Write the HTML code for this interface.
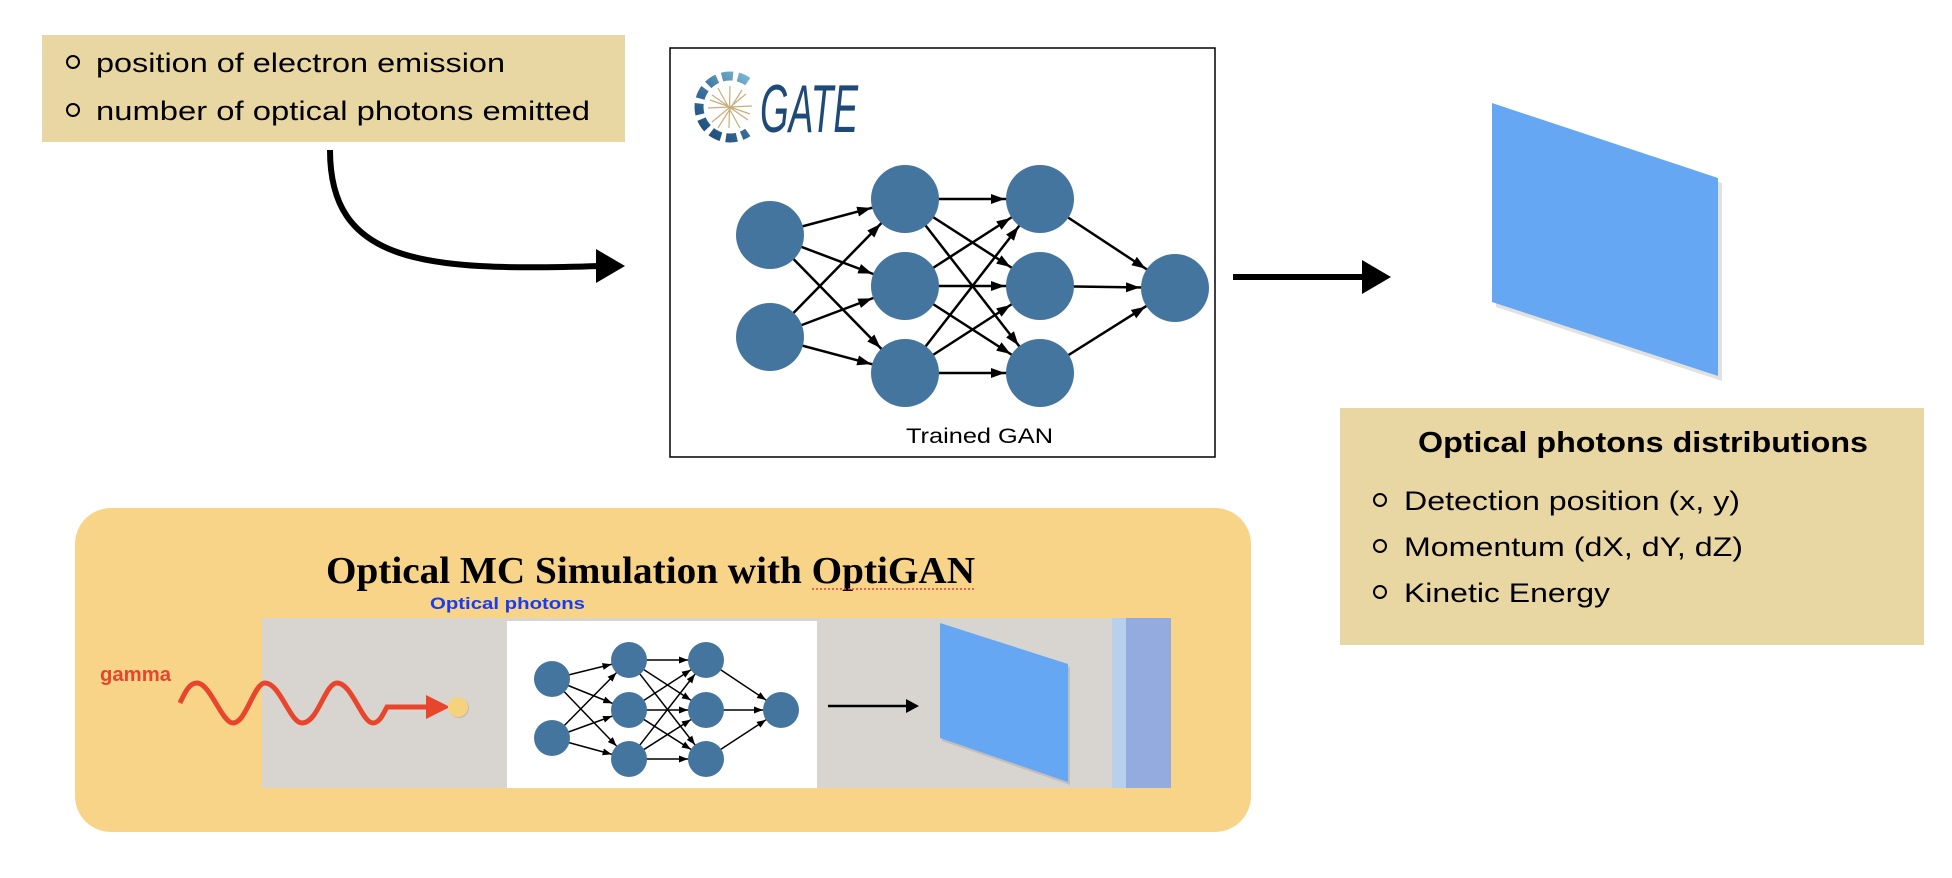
<!DOCTYPE html>
<html><head><meta charset="utf-8"><style>
html,body{margin:0;padding:0;background:#fff;}
svg{display:block;}
text{font-family:"Liberation Sans",sans-serif;}
</style></head><body>
<svg width="1952" height="878" viewBox="0 0 1952 878" xmlns="http://www.w3.org/2000/svg">
<defs>
<marker id="mb" markerUnits="userSpaceOnUse" markerWidth="14" markerHeight="10" refX="49" refY="5" orient="auto"><path d="M0,0 L14,5 L0,10 z" fill="#000"/></marker>
<marker id="ms" markerUnits="userSpaceOnUse" markerWidth="9" markerHeight="7" refX="27" refY="3.5" orient="auto"><path d="M0,0 L9,3.5 L0,7 z" fill="#000"/></marker>
<linearGradient id="rg" gradientUnits="userSpaceOnUse" x1="760" y1="72" x2="700" y2="142">
<stop offset="0" stop-color="#8ccbe0"/><stop offset="0.5" stop-color="#3f77a0"/><stop offset="1" stop-color="#1a4272"/>
</linearGradient>
</defs>

<!-- top-left box -->
<rect x="42" y="35" width="583" height="107" fill="#e9d7a3"/>
<circle cx="73" cy="62" r="6" fill="none" stroke="#000" stroke-width="2"/>
<circle cx="73" cy="110" r="6" fill="none" stroke="#000" stroke-width="2"/>
<text x="96" y="72" font-size="27" textLength="409" lengthAdjust="spacingAndGlyphs">position of electron emission</text>
<text x="96" y="120" font-size="27" textLength="494" lengthAdjust="spacingAndGlyphs">number of optical photons emitted</text>

<!-- curved arrow -->
<path d="M330,150 C330,262 420,272 600,266" fill="none" stroke="#000" stroke-width="6"/>
<polygon points="596,249 625,266 596,283" fill="#000"/>

<!-- GAN box -->
<rect x="670" y="48" width="545" height="409" fill="#fff" stroke="#000" stroke-width="1.5"/>
<!-- GATE logo -->
<path d="M747.8,81.6 A31,31 0 1,0 747.8,132.4" fill="none" stroke="url(#rg)" stroke-width="9" stroke-dasharray="11 5"/>
<g stroke="#c9ad7a" stroke-width="1.2">
<line x1="712" y1="95" x2="748" y2="120"/><line x1="712" y1="122" x2="746" y2="94"/><line x1="730" y1="86" x2="729" y2="128"/><line x1="708" y1="108" x2="752" y2="106"/><line x1="718" y1="88" x2="740" y2="128"/><line x1="742" y1="90" x2="718" y2="128"/><line x1="710" y1="100" x2="750" y2="114"/>
</g>
<text x="760" y="132" font-size="68" font-style="italic" fill="#1e4a78" textLength="98" lengthAdjust="spacingAndGlyphs">GATE</text>

<!-- big NN edges -->
<g stroke="#000" stroke-width="2.5" marker-end="url(#mb)">
<line x1="770" y1="235" x2="905" y2="199"/><line x1="770" y1="235" x2="905" y2="286"/><line x1="770" y1="235" x2="905" y2="373"/>
<line x1="770" y1="337" x2="905" y2="199"/><line x1="770" y1="337" x2="905" y2="286"/><line x1="770" y1="337" x2="905" y2="373"/>
<line x1="905" y1="199" x2="1040" y2="199"/><line x1="905" y1="199" x2="1040" y2="286"/><line x1="905" y1="199" x2="1040" y2="373"/>
<line x1="905" y1="286" x2="1040" y2="199"/><line x1="905" y1="286" x2="1040" y2="286"/><line x1="905" y1="286" x2="1040" y2="373"/>
<line x1="905" y1="373" x2="1040" y2="199"/><line x1="905" y1="373" x2="1040" y2="286"/><line x1="905" y1="373" x2="1040" y2="373"/>
<line x1="1040" y1="199" x2="1175" y2="288"/><line x1="1040" y1="286" x2="1175" y2="288"/><line x1="1040" y1="373" x2="1175" y2="288"/>
</g>
<g fill="#44759e">
<circle cx="770" cy="235" r="34"/><circle cx="770" cy="337" r="34"/>
<circle cx="905" cy="199" r="34"/><circle cx="905" cy="286" r="34"/><circle cx="905" cy="373" r="34"/>
<circle cx="1040" cy="199" r="34"/><circle cx="1040" cy="286" r="34"/><circle cx="1040" cy="373" r="34"/>
<circle cx="1175" cy="288" r="34"/>
</g>
<text x="906" y="443" font-size="21" textLength="147" lengthAdjust="spacingAndGlyphs">Trained GAN</text>

<!-- straight arrow -->
<line x1="1233" y1="277" x2="1370" y2="277" stroke="#000" stroke-width="6"/>
<polygon points="1362,260 1391,277 1362,294" fill="#000"/>

<!-- blue detector -->
<polygon points="1494,106 1720,180 1720,378 1494,304" fill="#aaa" opacity="0.35" transform="translate(2,3)"/>
<polygon points="1492,103 1718,178 1718,376 1492,302" fill="#65a7f2"/>

<!-- right box -->
<rect x="1340" y="408" width="584" height="237" fill="#e9d7a3"/>
<text x="1418" y="452" font-size="29" font-weight="bold" textLength="450" lengthAdjust="spacingAndGlyphs">Optical photons distributions</text>
<circle cx="1380" cy="500" r="6" fill="none" stroke="#000" stroke-width="2"/>
<circle cx="1380" cy="546" r="6" fill="none" stroke="#000" stroke-width="2"/>
<circle cx="1380" cy="592" r="6" fill="none" stroke="#000" stroke-width="2"/>
<text x="1404" y="510" font-size="27" textLength="336" lengthAdjust="spacingAndGlyphs">Detection position (x, y)</text>
<text x="1404" y="556" font-size="27" textLength="339" lengthAdjust="spacingAndGlyphs">Momentum (dX, dY, dZ)</text>
<text x="1404" y="602" font-size="27" textLength="206" lengthAdjust="spacingAndGlyphs">Kinetic Energy</text>

<!-- bottom orange box -->
<rect x="75" y="508" width="1176" height="324" rx="36" fill="#f7d488"/>
<text x="326" y="583" font-size="38" font-weight="bold" style="font-family:'Liberation Serif',serif" textLength="649" lengthAdjust="spacingAndGlyphs">Optical MC Simulation with OptiGAN</text>
<line x1="812" y1="589" x2="975" y2="589" stroke="#e04040" stroke-width="1.5" stroke-dasharray="2 2"/>
<text x="430" y="609" font-size="17" font-weight="bold" fill="#1a3cf0" textLength="155" lengthAdjust="spacingAndGlyphs">Optical photons</text>
<rect x="262" y="618" width="850" height="170" fill="#d8d5d1"/>
<rect x="1112" y="618" width="14" height="170" fill="#b9d0ec"/>
<rect x="1126" y="618" width="45" height="170" fill="#93abdf"/>
<rect x="507" y="621" width="310" height="167" fill="#fff"/>
<text x="100" y="681" font-size="20" font-weight="bold" fill="#e8452c" textLength="71" lengthAdjust="spacingAndGlyphs">gamma</text>
<path d="M180,703 C186,690 190,683 197,683 C210,683 222,723 233,723 C246,723 254,683 265,683 C280,683 290,723 302,723 C318,723 325,683 337,683 C352,683 362,723 373,723 C380,723 384,712 387,707 L428,707" fill="none" stroke="#e8452c" stroke-width="5"/>
<polygon points="426,695 450,707 426,719" fill="#e8452c"/>
<circle cx="459" cy="708" r="10" fill="#999" opacity="0.4"/>
<circle cx="458" cy="707" r="10" fill="#f5d27e"/>

<!-- small NN -->
<g stroke="#000" stroke-width="1.5" marker-end="url(#ms)">
<line x1="552" y1="679" x2="629" y2="660"/><line x1="552" y1="679" x2="629" y2="710"/><line x1="552" y1="679" x2="629" y2="759"/>
<line x1="552" y1="738" x2="629" y2="660"/><line x1="552" y1="738" x2="629" y2="710"/><line x1="552" y1="738" x2="629" y2="759"/>
<line x1="629" y1="660" x2="706" y2="660"/><line x1="629" y1="660" x2="706" y2="710"/><line x1="629" y1="660" x2="706" y2="759"/>
<line x1="629" y1="710" x2="706" y2="660"/><line x1="629" y1="710" x2="706" y2="710"/><line x1="629" y1="710" x2="706" y2="759"/>
<line x1="629" y1="759" x2="706" y2="660"/><line x1="629" y1="759" x2="706" y2="710"/><line x1="629" y1="759" x2="706" y2="759"/>
<line x1="706" y1="660" x2="781" y2="710"/><line x1="706" y1="710" x2="781" y2="710"/><line x1="706" y1="759" x2="781" y2="710"/>
</g>
<g fill="#44759e">
<circle cx="552" cy="679" r="18"/><circle cx="552" cy="738" r="18"/>
<circle cx="629" cy="660" r="18"/><circle cx="629" cy="710" r="18"/><circle cx="629" cy="759" r="18"/>
<circle cx="706" cy="660" r="18"/><circle cx="706" cy="710" r="18"/><circle cx="706" cy="759" r="18"/>
<circle cx="781" cy="710" r="18"/>
</g>

<line x1="828" y1="706" x2="910" y2="706" stroke="#000" stroke-width="2.5"/>
<polygon points="906,699 919,706 906,713" fill="#000"/>

<polygon points="942,626 1070,667 1070,785 942,741" fill="#999" opacity="0.35"/>
<polygon points="940,623 1068,664 1068,782 940,738" fill="#65a7f2"/>
</svg>
</body></html>
